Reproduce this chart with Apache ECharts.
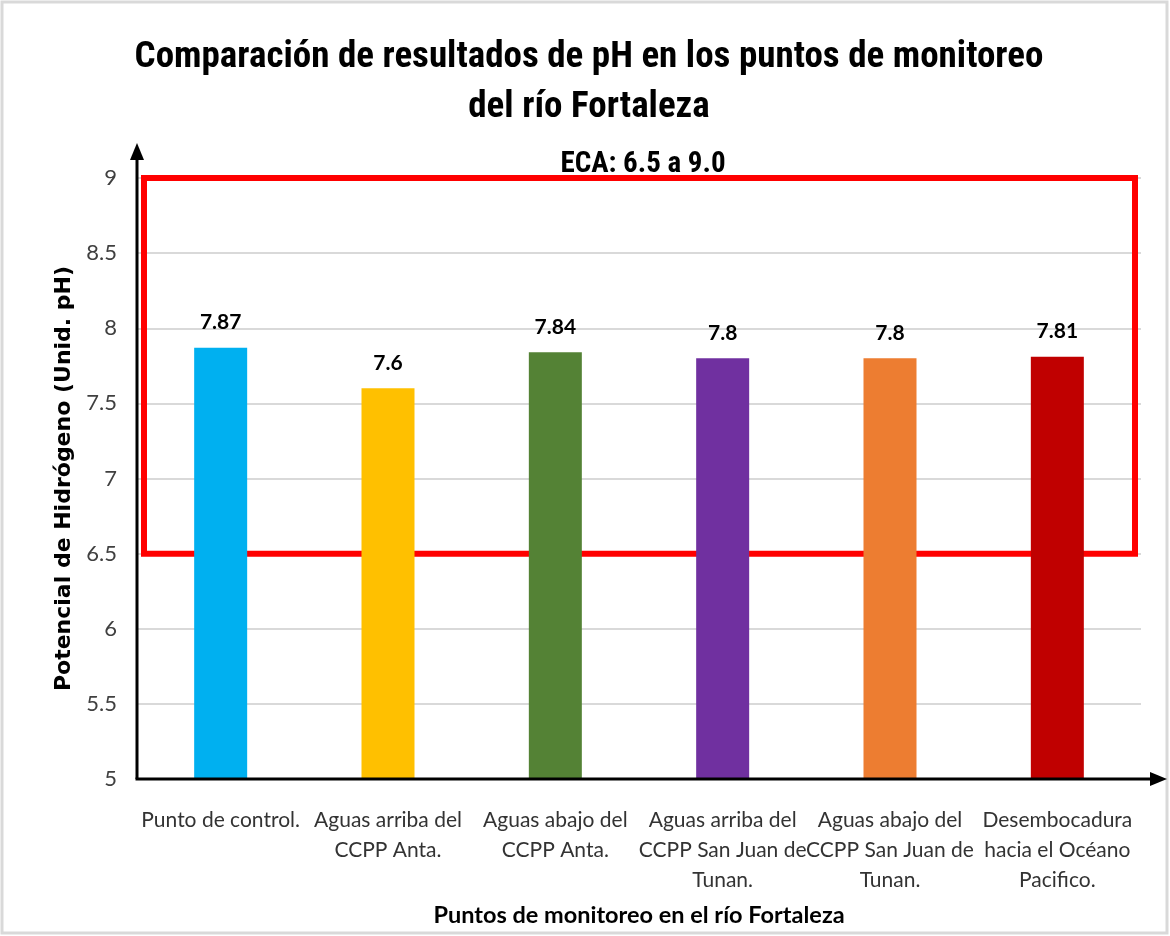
<!DOCTYPE html>
<html><head><meta charset="utf-8">
<script src="https://cdn.jsdelivr.net/npm/echarts@6/dist/echarts.min.js"></script>
<style>html,body{margin:0;padding:0;background:#fff}#c{width:1170px;height:936px}</style>
</head><body><div id="c"></div>
<script>
var categories = ["Punto de control.", "Aguas arriba del\nCCPP Anta.", "Aguas abajo del\nCCPP Anta.", "Aguas arriba del\nCCPP San Juan de\nTunan.", "Aguas abajo del\nCCPP San Juan de\nTunan.", "Desembocadura\nhacia el Océano\nPacifico."];
var phValues = [7.87, 7.6, 7.84, 7.8, 7.8, 7.81];
var barColors = ["#00B0F0", "#FFC000", "#548235", "#7030A0", "#ED7D31", "#C00000"];
var ecaRange = [6.5, 9.0];
var yTicks = [5, 5.5, 6, 6.5, 7, 7.5, 8, 8.5, 9];

var NARROW = '"Roboto Condensed", "Liberation Sans Narrow", "Noto Sans", sans-serif';
var HUM = 'Lato, "Noto Sans", sans-serif';
var G = {left: 137, right: 29, top: 178, bottom: 157};
var W = 1170, H = 936;
var x0 = G.left, y0 = H - G.bottom;

var chart = echarts.init(document.getElementById('c'));
chart.setOption({
  backgroundColor: '#fff',
  animation: false,
  title: [{
    text: 'Comparación de resultados de pH en los puntos de monitoreo\ndel río Fortaleza',
    left: 584, top: 28, textAlign: 'center',
    textStyle: {fontFamily: NARROW, fontWeight: 'bold', fontSize: 37, lineHeight: 50, color: '#000'}
  }, {
    text: 'ECA: 6.5 a 9.0',
    left: 638, top: 145, textAlign: 'center',
    textStyle: {fontFamily: NARROW, fontWeight: 'bold', fontSize: 29, color: '#000'}
  }],
  grid: G,
  xAxis: {
    type: 'category', data: categories,
    axisLine: {show: false}, axisTick: {show: false},
    axisLabel: {interval: 0, margin: 26, fontFamily: HUM, fontSize: 21, lineHeight: 30, color: '#333', verticalAlign: 'top'},
    name: 'Puntos de monitoreo en el río Fortaleza', nameLocation: 'middle', nameGap: 124,
    nameTextStyle: {fontFamily: HUM, fontWeight: 'bold', fontSize: 23.5, color: '#000'}
  },
  yAxis: {
    type: 'value', min: 5, max: 9, interval: 0.5,
    axisLine: {show: false}, axisTick: {show: false},
    axisLabel: {margin: 20, fontFamily: HUM, fontSize: 22, color: '#404040',
      formatter: function (v) { return yTicks.indexOf(v) >= 0 ? String(v) : ''; }},
    splitLine: {lineStyle: {color: '#d9d9d9', width: 2}},
    name: 'Potencial de Hidrógeno (Unid. pH)', nameLocation: 'middle', nameGap: 62, nameRotate: 90,
    nameTextStyle: {fontFamily: '"DejaVu Sans", Verdana, sans-serif', fontWeight: 'bold', fontSize: 22, color: '#000'}
  },
  series: [{
    type: 'bar', barWidth: 53,
    data: phValues.map(function (v, i) { return {value: v, itemStyle: {color: barColors[i]}}; }),
    label: {show: true, position: 'top', distance: 15, fontFamily: HUM, fontWeight: 'bold', fontSize: 21, color: '#000'},
    markArea: {
      silent: true,
      itemStyle: {color: 'rgba(0,0,0,0)', borderColor: '#FF0000', borderWidth: 6},
      data: [[{yAxis: ecaRange[0], x: 144}, {yAxis: ecaRange[1], x: 1135}]]
    }
  }],
  graphic: [
    {type: 'rect', shape: {x: 2, y: 2, width: W - 5, height: H - 5}, style: {fill: 'none', stroke: '#d9d9d9', lineWidth: 3}, z: 100},
    {type: 'line', shape: {x1: x0, y1: y0, x2: x0, y2: 158}, style: {stroke: '#000', lineWidth: 3}, z: 100},
    {type: 'polygon', shape: {points: [[x0 - 7, 160], [x0 + 7, 160], [x0, 143]]}, style: {fill: '#000'}, z: 100},
    {type: 'line', shape: {x1: x0 - 1.5, y1: y0, x2: 1152, y2: y0}, style: {stroke: '#000', lineWidth: 3}, z: 100},
    {type: 'polygon', shape: {points: [[1150, y0 - 7], [1150, y0 + 7], [1167, y0]]}, style: {fill: '#000'}, z: 100}
  ]
});
</script></body></html>
